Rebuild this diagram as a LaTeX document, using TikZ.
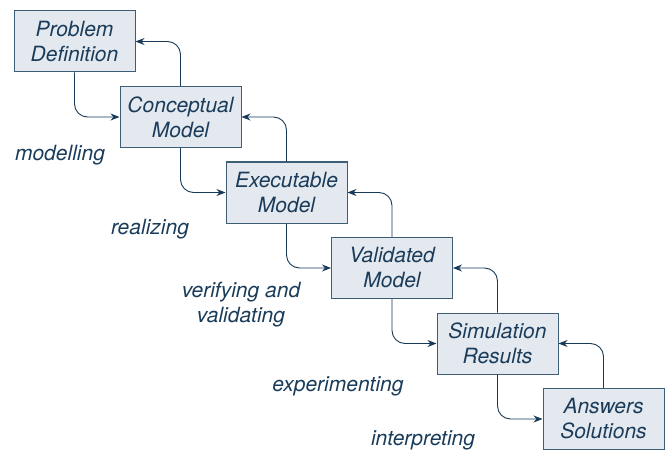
\documentclass[tikz,border=0pt]{standalone}
\usepackage{fontspec}
\setmainfont{TeX Gyre Heros}
\usepackage{tikz}
\usetikzlibrary{arrows.meta, positioning}
\definecolor{stageink}{RGB}{26,60,90}
\definecolor{stagefill}{RGB}{228,233,239}
\definecolor{stageline}{RGB}{62,94,120}
\definecolor{flowline}{RGB}{24,58,88}

\begin{document}
\begin{tikzpicture}[x=1pt, y=-1pt, thick,
    stage/.style={draw=stageline, fill=stagefill, line width=1pt,
        minimum width=121pt, minimum height=61pt, align=center,
        text=stageink, font=\fontsize{21}{25}\selectfont\itshape},
    act/.style={text=stageink, align=center, font=\fontsize{21}{25}\selectfont\itshape},
    flow/.style={draw=flowline, line width=0.9pt, rounded corners=13pt,
        -{Stealth[length=9pt, width=7pt]}}]
    \useasboundingbox (0,0) rectangle (665,452);

    % Stages
    \node[stage] (prob) at (74.5,41.5)  {Problem\\Definition};
    \node[stage] (conc) at (180.5,117)  {Conceptual\\Model};
    \node[stage] (exec) at (286.5,192.5) {Executable\\Model};
    \node[stage] (vali) at (392,268)    {Validated\\Model};
    \node[stage] (simu) at (497.5,343.5) {Simulation\\Results};
    \node[stage] (answ) at (603.5,419)  {Answers\\Solutions};

    % Activities
    \node[act] (mod) at (60,155)   {modelling};
    \node[act] (rea) at (150,229)  {realizing};
    \node[act] (ver) at (241,305)  {verifying and\\validating};
    \node[act] (exp) at (338,386)  {experimenting};
    \node[act] (int) at (423,440)  {interpreting};

    % Forward steps
    \draw[flow] (prob.south) |- (conc.west);
    \draw[flow] (conc.south) |- (exec.west);
    \draw[flow] (exec.south) |- (vali.west);
    \draw[flow] (vali.south) |- (simu.west);
    \draw[flow] (simu.south) |- (answ.west);

    % Feedback
    \draw[flow] (conc.north) |- (prob.east);
    \draw[flow] (exec.north) |- (conc.east);
    \draw[flow] (vali.north) |- (exec.east);
    \draw[flow] (simu.north) |- (vali.east);
    \draw[flow] (answ.north) |- (simu.east);
\end{tikzpicture}
\end{document}
